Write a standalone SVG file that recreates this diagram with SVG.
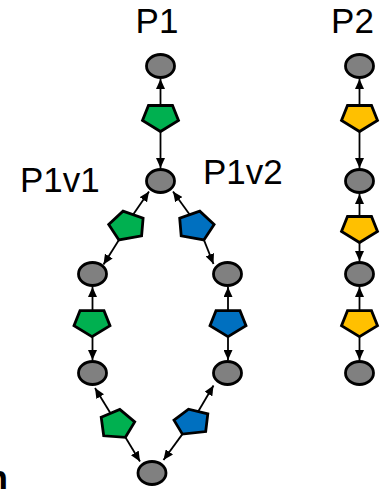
<svg xmlns="http://www.w3.org/2000/svg" width="382" height="489" viewBox="0 0 382 489">
<defs>
<marker id="ah" markerUnits="userSpaceOnUse" markerWidth="11" markerHeight="9" refX="10" refY="4.5" orient="auto">
<path d="M0,0 L10,4.5 L0,9 z" fill="#000"/>
</marker>
<polygon id="pent" points="-12,-13 12,-13 18,2 0,13 -18,2"/>
</defs>
<style>
.lbl{font-family:"Liberation Sans",Arial,sans-serif;font-size:35px;fill:#000}
.bold{font-family:"Liberation Sans",Arial,sans-serif;font-size:36px;font-weight:bold;fill:#000}
.res{fill:#808080;stroke:#000;stroke-width:2.8}
.g{fill:#00B050;stroke:#000;stroke-width:2.8;stroke-linejoin:miter}
.b{fill:#0070C0;stroke:#000;stroke-width:2.8;stroke-linejoin:miter}
.y{fill:#FFC000;stroke:#000;stroke-width:2.8;stroke-linejoin:miter}
.c{stroke:#000;stroke-width:1.8;fill:none;marker-end:url(#ah)}
</style>
<rect width="382" height="489" fill="#fff"/>
<g id="labels">
<text class="lbl" x="157" y="33" text-anchor="middle">P1</text>
<text class="lbl" x="352.5" y="33" text-anchor="middle">P2</text>
<text class="lbl" x="20" y="192">P1v1</text>
<text class="lbl" x="203" y="184">P1v2</text>
<text class="bold" x="-14" y="491">n</text>
</g>
<g id="connectors">
<line class="c" x1="160.5" y1="105.5" x2="160.5" y2="79"/>
<line class="c" x1="160.5" y1="131.5" x2="160.5" y2="168"/>
<line class="c" x1="133" y1="214.7" x2="149" y2="191.5"/>
<line class="c" x1="189.8" y1="214.7" x2="173" y2="191.5"/>
<line class="c" x1="118.9" y1="239.9" x2="103.5" y2="264.5"/>
<line class="c" x1="203.9" y1="239.9" x2="213.5" y2="264"/>
<line class="c" x1="92.5" y1="310.7" x2="92.5" y2="287"/>
<line class="c" x1="92.5" y1="336.7" x2="92.5" y2="360"/>
<line class="c" x1="228" y1="310.7" x2="228" y2="287"/>
<line class="c" x1="228" y1="336.7" x2="228" y2="360"/>
<line class="c" x1="110.5" y1="413.3" x2="95" y2="388"/>
<line class="c" x1="125.4" y1="437.3" x2="140" y2="461.5"/>
<line class="c" x1="198.2" y1="411.5" x2="213.5" y2="385.5"/>
<line class="c" x1="182.4" y1="434.1" x2="163.5" y2="460"/>
<line class="c" x1="359.5" y1="105.5" x2="359.5" y2="79"/>
<line class="c" x1="359.5" y1="131.5" x2="359.5" y2="168"/>
<line class="c" x1="359.5" y1="216.5" x2="359.5" y2="194"/>
<line class="c" x1="359.5" y1="242.5" x2="359.5" y2="261"/>
<line class="c" x1="359.5" y1="310.7" x2="359.5" y2="287"/>
<line class="c" x1="359.5" y1="336.7" x2="359.5" y2="360"/>
</g>
<g id="p1-r1"><ellipse class="res" cx="160.5" cy="66" rx="14" ry="11.5"/></g>
<g id="p1-m1"><use href="#pent" class="g" transform="translate(160.5,118.5)"/></g>
<g id="p1-r2"><ellipse class="res" cx="160.5" cy="181" rx="14" ry="11.5"/></g>
<g id="v1-m1"><polygon class="g" points="123,211.1 143.1,218.3 141.6,235.9 118.9,239.9 108.7,224.4"/></g>
<g id="v2-m1"><polygon class="b" points="199.8,211.1 179.7,218.3 181.2,235.9 203.9,239.9 214.1,224.4"/></g>
<g id="v1-r1"><ellipse class="res" cx="92.5" cy="274" rx="14" ry="11.5"/></g>
<g id="v2-r1"><ellipse class="res" cx="227.5" cy="274" rx="14" ry="11.5"/></g>
<g id="v1-m2"><use href="#pent" class="g" transform="translate(92,323.7)"/></g>
<g id="v2-m2"><use href="#pent" class="b" transform="translate(228,323.7)"/></g>
<g id="v1-r2"><ellipse class="res" cx="92.5" cy="373" rx="14" ry="11.5"/></g>
<g id="v2-r2"><ellipse class="res" cx="227.5" cy="373" rx="14" ry="11.5"/></g>
<g id="v1-m3"><polygon class="g" points="101.2,417.2 119.8,409.4 134.7,421.9 125.4,437.3 103.7,435.8"/></g>
<g id="v2-m3"><polygon class="b" points="174,420.1 188.5,409.2 207.8,413.9 205.7,431.6 182.4,434.1"/></g>
<g id="p1-r3"><ellipse class="res" cx="152" cy="473" rx="14" ry="11.5"/></g>
<g id="p2-r1"><ellipse class="res" cx="359.5" cy="66" rx="14" ry="11.5"/></g>
<g id="p2-m1"><use href="#pent" class="y" transform="translate(359.5,118.5)"/></g>
<g id="p2-r2"><ellipse class="res" cx="359.5" cy="181" rx="14" ry="11.5"/></g>
<g id="p2-m2"><use href="#pent" class="y" transform="translate(359.5,229.5)"/></g>
<g id="p2-r3"><ellipse class="res" cx="359.5" cy="274" rx="14" ry="11.5"/></g>
<g id="p2-m3"><use href="#pent" class="y" transform="translate(359.5,323.7)"/></g>
<g id="p2-r4"><ellipse class="res" cx="359.5" cy="373" rx="14" ry="11.5"/></g>
</svg>
